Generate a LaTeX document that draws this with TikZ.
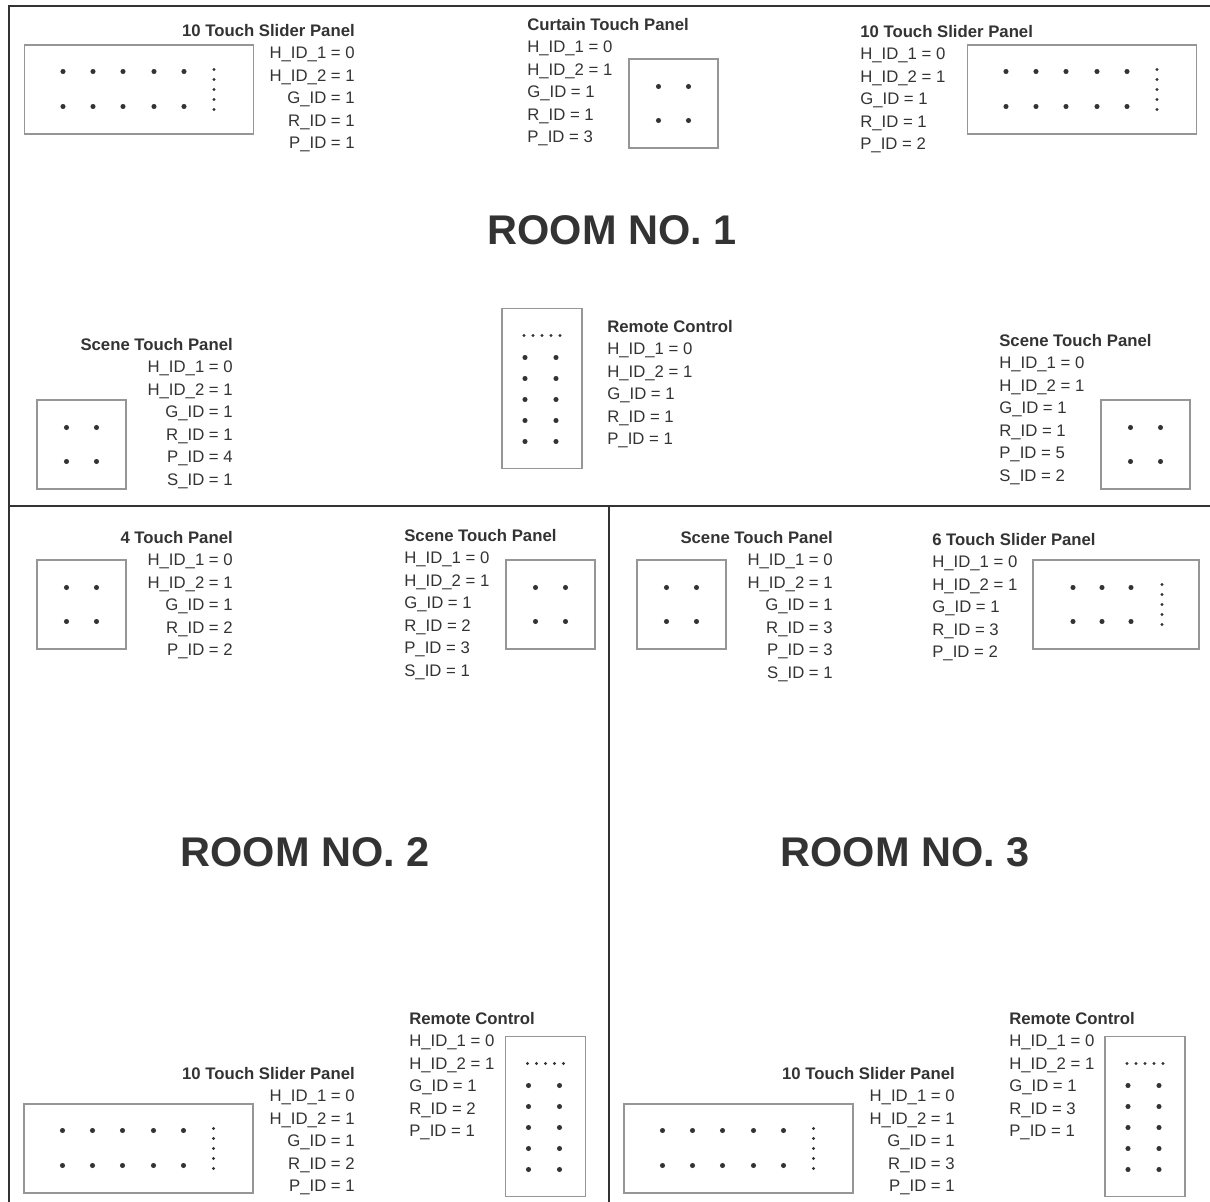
\documentclass[tikz,border=0pt]{standalone}
\usepackage{fontspec}
\setmainfont{Liberation Sans}
\usepackage{tikz}
\usetikzlibrary{calc}
\usepackage{xcolor}
\definecolor{ink}{RGB}{51,51,51}
\definecolor{padline}{RGB}{150,150,150}

% button layouts, placed round the centre of a pad node
\newcommand{\quadbtns}[1]{%
  \foreach \dx in {-15,15} \foreach \dy in {-17,17}
    \fill[ink] ($(#1)+(\dx,\dy)$) circle (1.8pt);}
\newcommand{\sliderbtns}[1]{%
  \foreach \dx in {-76,-46,-16,15,45} \foreach \dy in {-18,17}
    \fill[ink] ($(#1)+(\dx,\dy)$) circle (1.8pt);
  \foreach \dy in {-20,-10,0,10,20}
    \fill[ink] ($(#1)+(75,\dy)$) circle (1.1pt);}
\newcommand{\sixbtns}[1]{%
  \foreach \dx in {-43,-14,15} \foreach \dy in {-17,17}
    \fill[ink] ($(#1)+(\dx,\dy)$) circle (1.8pt);
  \foreach \dy in {-20,-10,0,10,20}
    \fill[ink] ($(#1)+(46,\dy)$) circle (1.1pt);}
\newcommand{\remotebtns}[1]{%
  \foreach \dx in {-18,-9,0,9,18}
    \fill[ink] ($(#1)+(\dx,-53)$) circle (1.1pt);
  \foreach \dx in {-17,14} \foreach \dy in {-31,-10,11,32,53}
    \fill[ink] ($(#1)+(\dx,\dy)$) circle (1.8pt);}

\begin{document}
\begin{tikzpicture}[x=0.025cm,y=-0.025cm,
    wall/.style={draw=ink,line width=1.4pt},
    pad/.style={draw=padline,line width=0.8pt,inner sep=0pt,minimum width=2.225cm,minimum height=2.225cm},
    slider/.style={pad,minimum width=5.725cm},
    sixslider/.style={pad,minimum width=4.15cm},
    remote/.style={pad,minimum width=2cm,minimum height=4cm},
    infol/.style={inner sep=0pt,align=left,text=ink,font=\fontsize{11.9}{16}\selectfont},
    infor/.style={infol,align=right},
    roomname/.style={text=ink,font=\bfseries\fontsize{29.5}{35}\selectfont}
]
\useasboundingbox (0,0) rectangle (1210,1202);

% walls
\draw[wall] (9,1202) |- (1210,6);
\draw[wall] (9,506) -- (1210,506);
\draw[wall] (609,506) -- (609,1202);

\node[roomname] (room1) at (612,230) {ROOM NO. 1};
\node[roomname] (room2) at (305,852) {ROOM NO. 2};
\node[roomname] (room3) at (905,852) {ROOM NO. 3};

% room 1
\node[slider] (sl11) at (139,89.5) {};
\sliderbtns{sl11}
\node[infor,anchor=north east] (sl11info) at (355,24) {\textbf{10 Touch Slider Panel}\\H\_ID\_1 = 0\\H\_ID\_2 = 1\\G\_ID = 1\\R\_ID = 1\\P\_ID = 1};

\node[pad] (cur1) at (673.5,103.5) {};
\quadbtns{cur1}
\node[infol,anchor=north west] (cur1info) at (527,18) {\textbf{Curtain Touch Panel}\\H\_ID\_1 = 0\\H\_ID\_2 = 1\\G\_ID = 1\\R\_ID = 1\\P\_ID = 3};

\node[slider] (sl12) at (1082,89.5) {};
\sliderbtns{sl12}
\node[infol,anchor=north west] (sl12info) at (860,25) {\textbf{10 Touch Slider Panel}\\H\_ID\_1 = 0\\H\_ID\_2 = 1\\G\_ID = 1\\R\_ID = 1\\P\_ID = 2};

\node[pad] (sc11) at (81.5,444.5) {};
\quadbtns{sc11}
\node[infor,anchor=north east] (sc11info) at (233,338) {\textbf{Scene Touch Panel}\\H\_ID\_1 = 0\\H\_ID\_2 = 1\\G\_ID = 1\\R\_ID = 1\\P\_ID = 4\\S\_ID = 1};

\node[remote] (rc1) at (542,388.5) {};
\remotebtns{rc1}
\node[infol,anchor=north west] (rc1info) at (607,320) {\textbf{Remote Control}\\H\_ID\_1 = 0\\H\_ID\_2 = 1\\G\_ID = 1\\R\_ID = 1\\P\_ID = 1};

\node[pad] (sc12) at (1145.5,444.5) {};
\quadbtns{sc12}
\node[infol,anchor=north west] (sc12info) at (999,334) {\textbf{Scene Touch Panel}\\H\_ID\_1 = 0\\H\_ID\_2 = 1\\G\_ID = 1\\R\_ID = 1\\P\_ID = 5\\S\_ID = 2};

% room 2
\node[pad] (qt2) at (81.5,604.5) {};
\quadbtns{qt2}
\node[infor,anchor=north east] (qt2info) at (233,531) {\textbf{4 Touch Panel}\\H\_ID\_1 = 0\\H\_ID\_2 = 1\\G\_ID = 1\\R\_ID = 2\\P\_ID = 2};

\node[pad] (sc2) at (550.5,604.5) {};
\quadbtns{sc2}
\node[infol,anchor=north west] (sc2info) at (404,529) {\textbf{Scene Touch Panel}\\H\_ID\_1 = 0\\H\_ID\_2 = 1\\G\_ID = 1\\R\_ID = 2\\P\_ID = 3\\S\_ID = 1};

\node[slider] (sl2) at (138.5,1148.5) {};
\sliderbtns{sl2}
\node[infor,anchor=north east] (sl2info) at (355,1067) {\textbf{10 Touch Slider Panel}\\H\_ID\_1 = 0\\H\_ID\_2 = 1\\G\_ID = 1\\R\_ID = 2\\P\_ID = 1};

\node[remote] (rc2) at (545.5,1116.5) {};
\remotebtns{rc2}
\node[infol,anchor=north west] (rc2info) at (409,1012) {\textbf{Remote Control}\\H\_ID\_1 = 0\\H\_ID\_2 = 1\\G\_ID = 1\\R\_ID = 2\\P\_ID = 1};

% room 3
\node[pad] (sc3) at (681.5,604.5) {};
\quadbtns{sc3}
\node[infor,anchor=north east] (sc3info) at (833,531) {\textbf{Scene Touch Panel}\\H\_ID\_1 = 0\\H\_ID\_2 = 1\\G\_ID = 1\\R\_ID = 3\\P\_ID = 3\\S\_ID = 1};

\node[sixslider] (six3) at (1116,604.5) {};
\sixbtns{six3}
\node[infol,anchor=north west] (six3info) at (932,533) {\textbf{6 Touch Slider Panel}\\H\_ID\_1 = 0\\H\_ID\_2 = 1\\G\_ID = 1\\R\_ID = 3\\P\_ID = 2};

\node[slider] (sl3) at (738.5,1148.5) {};
\sliderbtns{sl3}
\node[infor,anchor=north east] (sl3info) at (955,1067) {\textbf{10 Touch Slider Panel}\\H\_ID\_1 = 0\\H\_ID\_2 = 1\\G\_ID = 1\\R\_ID = 3\\P\_ID = 1};

\node[remote] (rc3) at (1145,1116.5) {};
\remotebtns{rc3}
\node[infol,anchor=north west] (rc3info) at (1009,1012) {\textbf{Remote Control}\\H\_ID\_1 = 0\\H\_ID\_2 = 1\\G\_ID = 1\\R\_ID = 3\\P\_ID = 1};
\end{tikzpicture}
\end{document}
